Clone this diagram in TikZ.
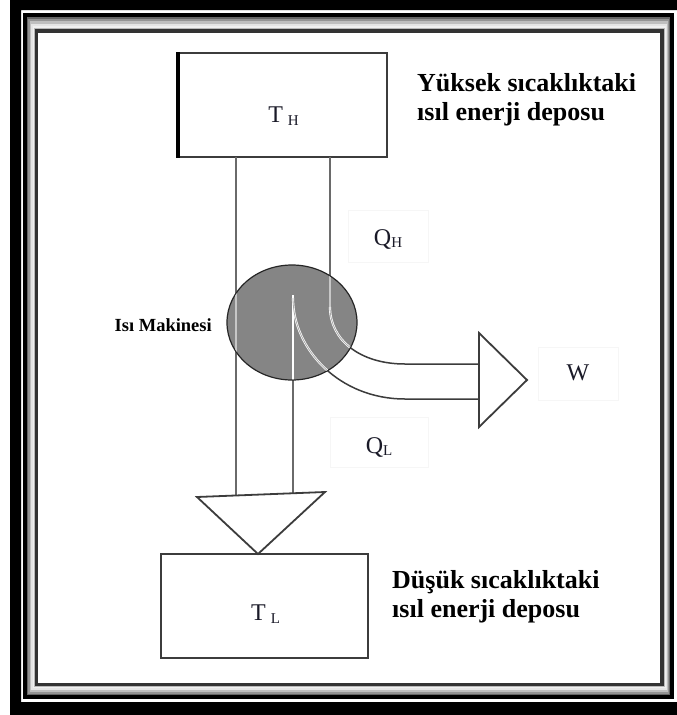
\documentclass[tikz,border=0pt]{standalone}
\usepackage{fontspec}
\setmainfont{Liberation Serif}
\usetikzlibrary{shapes.geometric,calc}
\definecolor{txt}{HTML}{1A1A28}
\definecolor{linegray}{HTML}{6A6A6A}
\definecolor{boxline}{HTML}{3C3C3C}
\definecolor{fillgray}{HTML}{858585}
\definecolor{faint}{HTML}{F6F6F6}
\newcommand{\lowsub}[2]{\raisebox{-#1}{\fontsize{15}{15}\selectfont #2}}
\begin{document}
\begin{tikzpicture}[x=1pt,y=-1pt,
  reservoir/.style={draw=boxline,line width=1.8pt,inner sep=0pt},
  conn/.style={draw=linegray,line width=2pt},
  flow/.style={draw=boxline,line width=1.5pt},
  lightline/.style={draw=black!22,line width=1.6pt},
  whiteflow/.style={draw=white,line width=0.7pt,double=fillgray!70!white,double distance=0.8pt},
  bigtri/.style={draw=boxline,line width=1.8pt,fill=white,line join=miter},
  desc/.style={font=\bfseries\fontsize{26}{29}\selectfont,text=black,inner sep=0pt,anchor=base west},
  engdesc/.style={font=\bfseries\fontsize{18.5}{20}\selectfont,text=black,inner sep=0pt,anchor=base east},
  sym/.style={font=\fontsize{24}{26}\selectfont,text=txt,inner sep=0pt},
  qbox/.style={sym,draw=faint,line width=0.8pt,text depth=0pt}
]
\useasboundingbox (0,0) rectangle (677,715);
\clip (0,0) rectangle (677,715);
\fill[white] (0,0) rectangle (677,715);
% ---- page border ----
\fill[black,even odd rule] (10,-10) rectangle (700,725) (21,10) rectangle (680,702);
\fill[black] (23,13) rectangle (674,699);
\foreach \t/\c in {0/black!60,0.15/black!42,0.35/black!25,0.55/black!10,0.75/black!6,0.9/black!28}
  \fill[\c] ($(27,17)!\t!(35,29)$) rectangle ($(670,695)!\t!(664,686)$);
\fill[black!80] (35,29) rectangle (664,686);
\fill[white] (38,33) rectangle (660,683);

% ---- reservoirs ----
\node[reservoir,minimum width=208pt,minimum height=104pt] (TH) at (283,105) {};
\draw[black,line width=3.5pt] (TH.north west) -- (TH.south west);
\node[reservoir,minimum width=207pt,minimum height=104pt] (TL) at (264.5,606) {};
\node[sym,anchor=base] (THlbl) at (283.5,122) {T\kern5pt\lowsub{3pt}{H}};
\node[sym,anchor=base] (TLlbl) at (265.5,620) {T\kern5pt\lowsub{3pt}{L}};

\node[desc] (hot1) at (417,91) {Yüksek sıcaklıktaki};
\node[desc] (hot2) at (417,120) {ısıl enerji deposu};
\node[desc] (cold1) at (392,588) {Düşük sıcaklıktaki};
\node[desc] (cold2) at (392,617) {ısıl enerji deposu};

% ---- coordinates ----
\coordinate (aL) at (236,157);
\coordinate (aR) at (330,157);
\coordinate (aRend) at (330,307);
\coordinate (mTop) at (293,295);
\coordinate (d1) at (197,497);
\coordinate (d2) at (325,492);
\coordinate (d3) at (258,554);
\coordinate (aLend) at (236,495.5);
\coordinate (mEnd) at (293,493.3);
\coordinate (w1) at (479,333);
\coordinate (w2) at (527,380);
\coordinate (w3) at (479,427);
\coordinate (uH) at (405,364);
\coordinate (uE) at (479,364);
\coordinate (lS) at (293,298);
\coordinate (lH) at (405,399);
\coordinate (lE) at (479,399);

% ---- flows ----
\draw[conn] (aL) -- (aLend);
\draw[conn] (aR) -- (aRend);
\draw[conn] (mTop) -- (mEnd);
\draw[flow] (aRend) .. controls (330,340) and (360,364) .. (uH) -- (uE);
\draw[flow] (lS) .. controls (293,350) and (340,399) .. (lH) -- (lE);

% ---- engine ----
\node[ellipse,fill=fillgray,draw=black!85,line width=1.2pt,minimum width=130pt,minimum height=115pt,inner sep=0pt] (eng) at (292,322.5) {};
\begin{scope}
  \clip (292,322.5) ellipse [x radius=64.4pt,y radius=56.9pt];
  \draw[lightline] (aL) -- (aLend);
  \draw[lightline] (aR) -- (aRend);
  \draw[draw=white,line width=1.4pt] (mTop) -- (mEnd);
  \draw[whiteflow] (aRend) .. controls (330,340) and (360,364) .. (uH);
  \draw[whiteflow] (lS) .. controls (293,350) and (340,399) .. (lH);
\end{scope}
\node[engdesc] (englbl) at (212,331) {Isı Makinesi};

% ---- arrow heads ----
\draw[bigtri] (w1) -- (w2) -- (w3) -- cycle;
\draw[bigtri] (d1) -- (d2) -- (d3) -- cycle;

% ---- symbols ----
\node[qbox,minimum width=80pt,minimum height=52pt,text height=18pt] (QH) at (388,236) {Q\lowsub{2pt}{H}};
\node[qbox,minimum width=80pt,minimum height=53pt,text height=14pt] (W) at (578,373.5) {W};
\node[qbox,minimum width=98pt,minimum height=50pt,text height=22pt] (QL) at (379,442) {Q\lowsub{2pt}{L}};
\end{tikzpicture}
\end{document}
